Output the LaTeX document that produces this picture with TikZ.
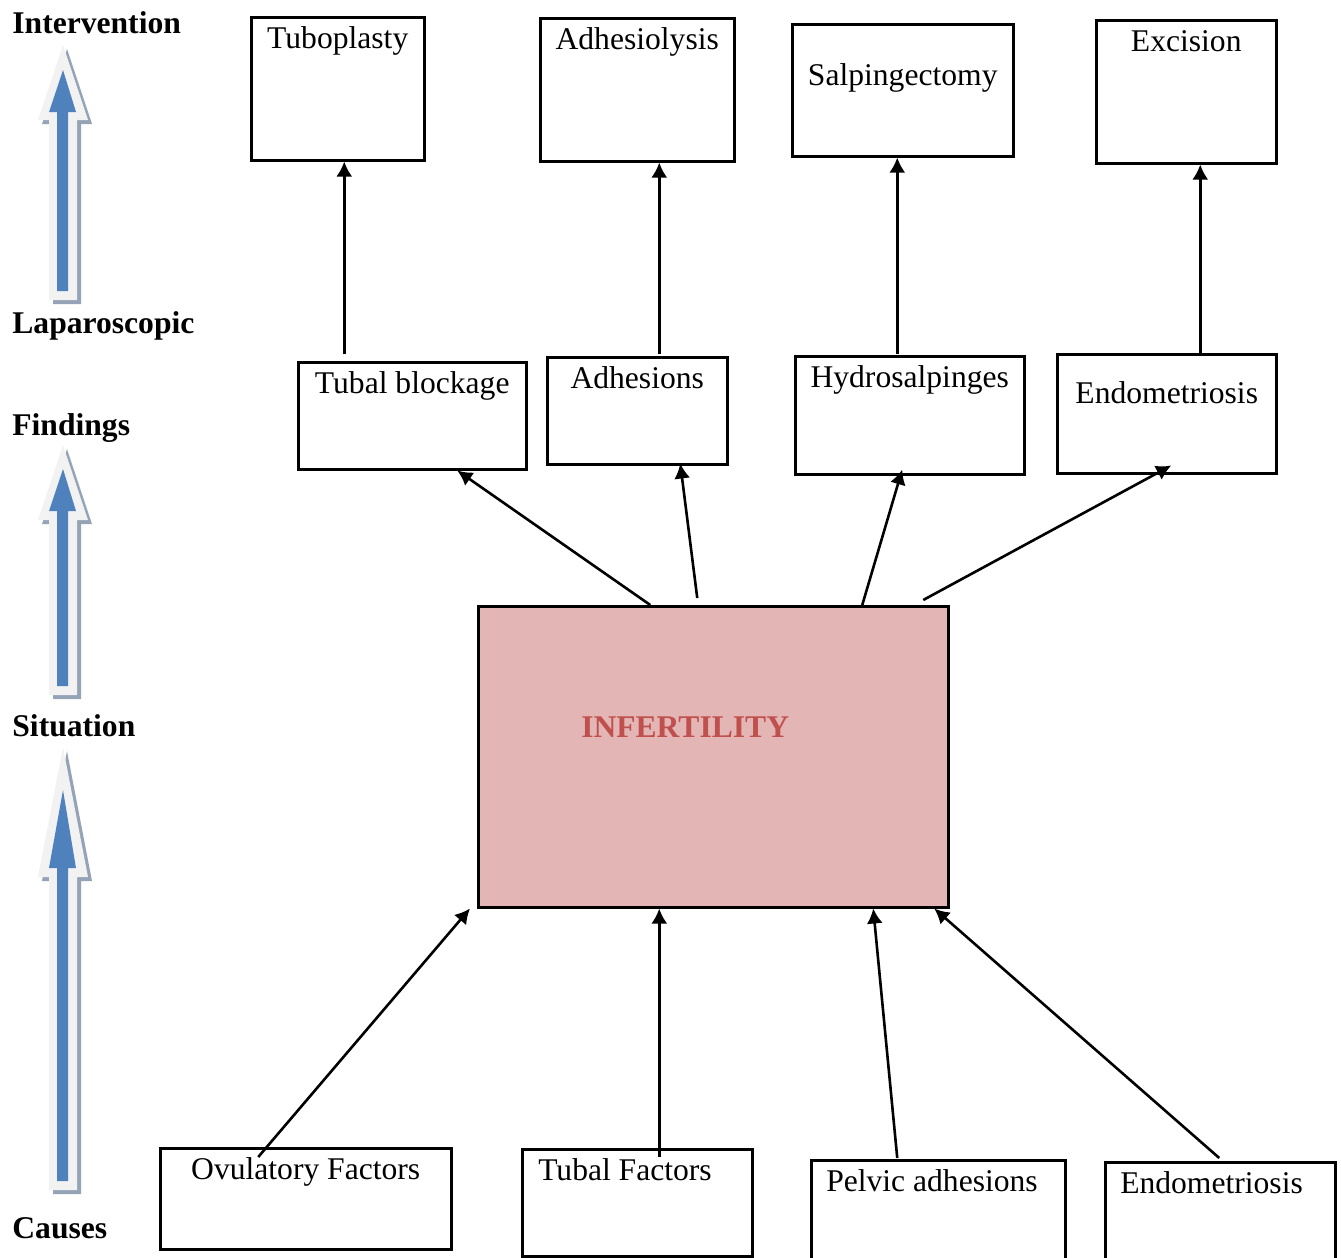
\documentclass[tikz,border=0pt]{standalone}
\usepackage{fontspec}
\setmainfont{Liberation Serif}
\usetikzlibrary{arrows.meta,calc}

\definecolor{shaftblue}{HTML}{4F81BD}
\definecolor{shaftgray}{HTML}{F2F2F2}
\definecolor{shadowgray}{HTML}{95A3B7}
\definecolor{infpink}{HTML}{E3B5B5}
\definecolor{infred}{HTML}{C0504D}

% block arrow on the left: tip, head base, bottom (outer), then tip, head base, bottom (inner)
\newcommand{\sidearrow}[6]{%
  \fill[shadowgray] (67,#1+4) -- (92,#2+4) -- (81,#2+4) -- (81,#3+4) -- (53,#3+4) -- (53,#2+4) -- (42,#2+4) -- cycle;
  \fill[shaftgray] (63,#1) -- (88,#2) -- (77,#2) -- (77,#3) -- (49,#3) -- (49,#2) -- (38,#2) -- cycle;
  \fill[shaftblue] (63,#4) -- (76,#5) -- (68,#5) -- (68,#6) -- (57,#6) -- (57,#5) -- (49,#5) -- cycle;
}

\tikzset{
  every node/.style={font=\fontsize{15.8}{19}\selectfont},
  box/.style={draw, line width=1.25pt, anchor=north west, inner sep=0pt, text height=15.5pt, align=flush center},
  lbox/.style={box, inner xsep=7.5pt, align=flush left},
  stage/.style={anchor=base west, inner sep=0pt, font=\fontsize{15.8}{19}\selectfont\bfseries},
  link/.style={line width=1.3pt, -{Latex[length=7.5pt,width=8pt]}},
}

\begin{document}
\begin{tikzpicture}[x=0.5pt, y=-0.5pt]
\useasboundingbox (0,0) rectangle (1341,1258);

% stages on the left
\node (intervention) [stage] at (12,33) {Intervention};
\node (laparoscopic) [stage] at (12,333) {Laparoscopic};
\node (findings) [stage] at (12,435) {Findings};
\node (situation) [stage] at (12,736) {Situation};
\node (causes) [stage] at (12,1238) {Causes};
\sidearrow{45}{120}{300}{70}{112}{291}
\sidearrow{445}{520}{695}{469}{511}{686}
\sidearrow{747}{877}{1190}{790}{868}{1181}

% interventions
\node (tuboplasty) [box, text width=86.5pt, text depth=56pt] at (250,16) {Tuboplasty};
\node (adhesiolysis) [box, text width=97pt, text depth=56pt] at (539,17) {Adhesiolysis};
\node (salpingectomy) [box, text width=110.5pt, text height=30.5pt, text depth=35.5pt] at (791,23) {Salpingectomy};
\node (excision) [box, text width=90pt, text depth=56pt] at (1095,19) {Excision};

% findings
\node (blockage) [box, text width=114pt, text depth=38pt] at (297,361) {Tubal blockage};
\node (adhesions) [box, text width=90pt, text depth=38pt] at (546,356) {Adhesions};
\node (hydro) [box, text width=114.5pt, text depth=43.5pt] at (794,355) {Hydrosalpinges};
\node (endofind) [box, text width=109.5pt, text height=24.5pt, text depth=35pt] at (1056,353) {Endometriosis};

% situation
\node (infertility) [box, fill=infpink, inner xsep=51.5pt, text width=132pt, align=flush left,
  text height=65.5pt, text depth=85pt, text=infred, font=\fontsize{15.8}{19}\selectfont\bfseries] at (477,605) {INFERTILITY};

% causes
\node (ovulatory) [box, text width=145.5pt, text depth=35pt] at (159,1147) {Ovulatory Factors};
\node (tubal) [lbox, inner xsep=8pt, text width=99pt, text depth=38pt] at (521,1148) {Tubal Factors};
\node (pelvic) [lbox, text width=112pt, text depth=44.5pt] at (810,1159) {Pelvic adhesions};
\node (endocause) [lbox, text width=100pt, text depth=44.5pt] at (1104,1161) {Endometriosis};

% findings -> interventions
\draw [link] ([xshift=-34pt, yshift=3.5pt]blockage.north) -- ([xshift=-34pt]blockage.north |- tuboplasty.south);
\draw [link] ([xshift=11pt, yshift=1pt]adhesions.north) -- ([xshift=11pt]adhesions.north |- adhesiolysis.south);
\draw [link] ([xshift=-6.25pt, yshift=0.5pt]hydro.north) -- ([xshift=-6.25pt]hydro.north |- salpingectomy.south);
\draw [link] ([xshift=16.75pt]endofind.north) -- ([xshift=16.75pt]endofind.north |- excision.south);

% situation -> findings
\draw [link] ([xshift=-31.5pt]infertility.north) -- ([xshift=22.5pt]blockage.south);
\draw [link] ([xshift=-8pt, yshift=3.5pt]infertility.north) -- ([xshift=21.5pt, yshift=1pt]adhesions.south);
\draw [link] ([xshift=74.5pt]infertility.north) -- ([xshift=-3.75pt, yshift=3pt]hydro.south);
\draw [link] ([xshift=105pt, yshift=2.5pt]infertility.north) -- ([xshift=2.25pt, yshift=4.5pt]endofind.south);

% causes -> situation
\draw [link] ([xshift=-23.75pt, yshift=-5pt]ovulatory.north) -- ([xshift=-3.5pt]infertility.south west);
\draw [link] ([xshift=11pt, yshift=-4.5pt]tubal.north) -- ([xshift=-27pt]infertility.south);
\draw [link] ([xshift=-20.5pt, yshift=0.5pt]pelvic.north) -- ([xshift=80pt]infertility.south);
\draw [link] ([xshift=-0.5pt, yshift=1.5pt]endocause.north) -- ([xshift=110.5pt]infertility.south);
\end{tikzpicture}
\end{document}
